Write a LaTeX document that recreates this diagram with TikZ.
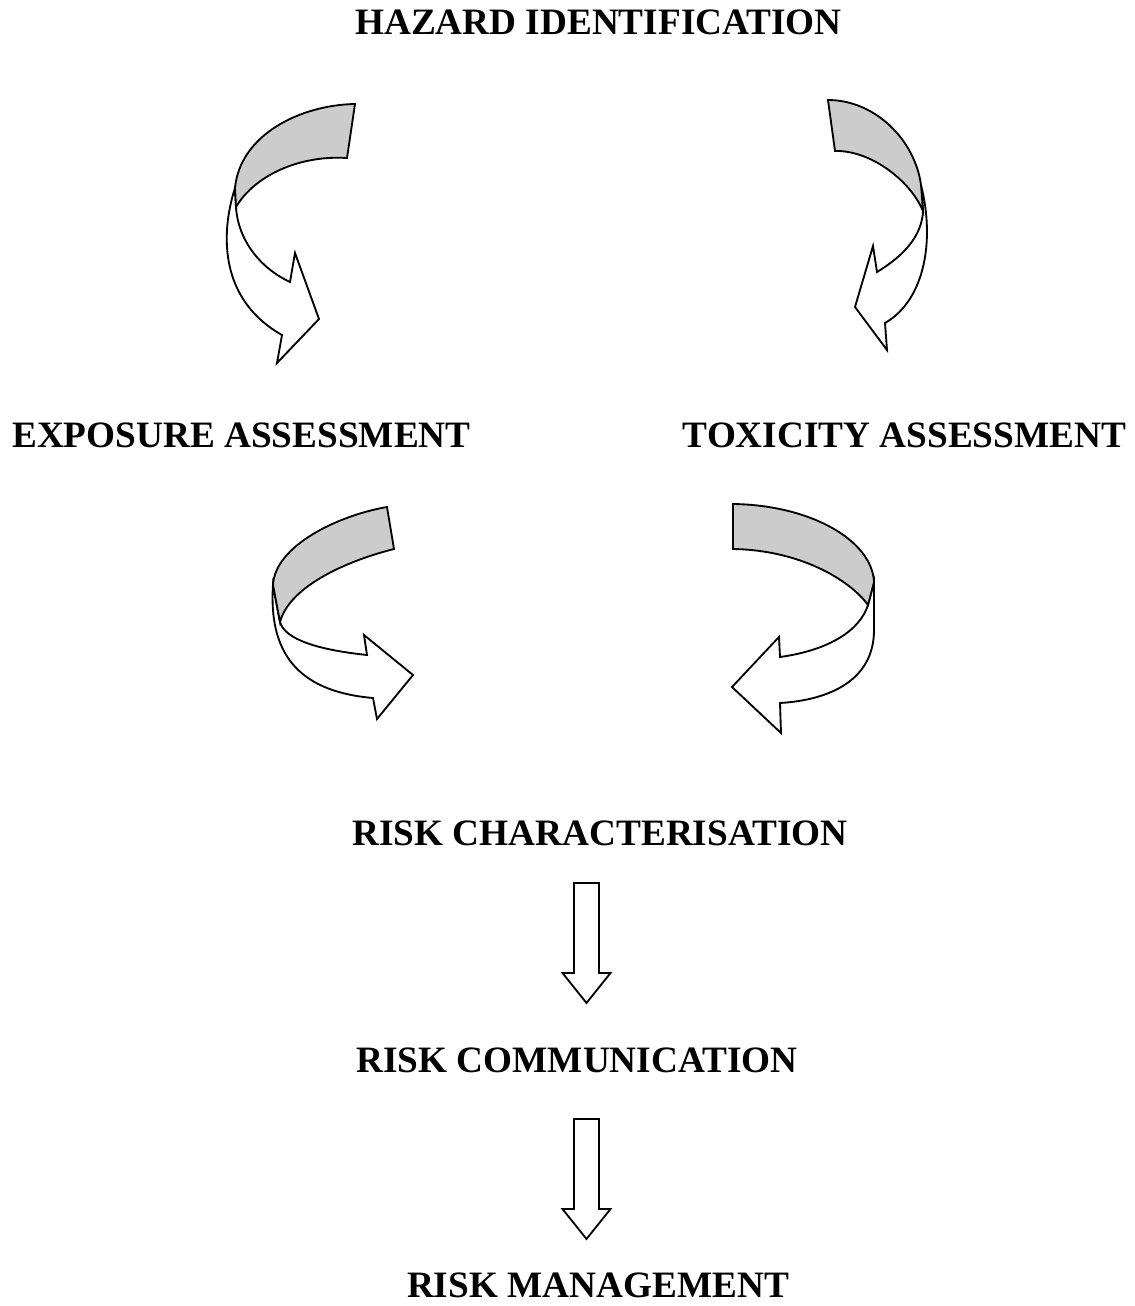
\documentclass[tikz,border=0pt]{standalone}
\usepackage{fontspec}
\setmainfont{Liberation Serif}
\usepackage{tikz}
\usetikzlibrary{positioning}
\newcommand*{\blockdown}[2]{% #1 = centre x, #2 = top y
  \draw[ribbon,fill=white] (#1-12.5,#2) -- (#1+12.5,#2) -- (#1+12.5,#2+90) -- (#1+24,#2+90)
    -- (#1,#2+120) -- (#1-24,#2+90) -- (#1-12.5,#2+90) -- cycle;}

\begin{document}
\begin{tikzpicture}[x=0.02cm,y=-0.02cm,
      ribbon/.style={draw,line width=1.05pt,line join=miter},
      backside/.style={ribbon,fill=black!20},
      frontside/.style={ribbon,fill=white},
      stage/.style={anchor=base,inner sep=0pt,font=\bfseries\fontsize{21.2}{25}\selectfont}]
      \useasboundingbox (0,0) rectangle (1134,1306);
      % stages
      \node[stage] (hazard)   at (598.5,34)  {HAZARD IDENTIFICATION};
      \node[stage] (exposure) at (241.5,447) {EXPOSURE ASSESSMENT};
      \node[stage] (toxicity) at (904.5,447) {TOXICITY ASSESSMENT};
      \node[stage] (riskchar) at (600,845)   {RISK CHARACTERISATION};
      \node[stage] (riskcomm) at (577,1072)  {RISK COMMUNICATION};
      \node[stage] (riskman)  at (598,1297)  {RISK MANAGEMENT};
      % hazard -> exposure
      \draw[frontside] (235,188) .. controls (220,235) and (220,300) .. (282,335) -- (277,363)
        -- (319,319) -- (295,253) -- (290,282) .. controls (260,268) and (238,240) .. (236,207) -- cycle;
      \draw[backside] (355,104) .. controls (300,105) and (240,135) .. (235,188) -- (236,207)
        .. controls (255,175) and (300,155) .. (347,158) -- cycle;
      % hazard -> toxicity
      \draw[frontside] (921,185) .. controls (935,240) and (925,300) .. (885,323) -- (887,350)
        -- (855,307) -- (873,246) -- (877,272) .. controls (905,255) and (922,235) .. (923,211) -- cycle;
      \draw[backside] (828,100) .. controls (875,100) and (915,140) .. (921,185) -- (923,211)
        .. controls (910,180) and (870,150) .. (835,151) -- cycle;
      % exposure -> risk characterisation
      \draw[frontside] (273,585) .. controls (268,660) and (305,692) .. (373,698) -- (377,719)
        -- (413,675) -- (364,635) -- (367,655) .. controls (320,650) and (285,640) .. (280,622) -- cycle;
      \draw[backside] (387,507) .. controls (340,515) and (275,545) .. (273,585) -- (280,622)
        .. controls (290,585) and (350,560) .. (394,549) -- cycle;
      % toxicity -> risk characterisation
      \draw[frontside] (874,582) -- (874,630) .. controls (874,680) and (830,700) .. (780,703) -- (781,733)
        -- (732,687) -- (779,637) -- (780,657) .. controls (830,650) and (860,630) .. (868,605) -- cycle;
      \draw[backside] (733,504) .. controls (810,505) and (872,540) .. (874,582) -- (868,605)
        .. controls (850,580) and (800,550) .. (733,549) -- cycle;
      % straight steps
      \blockdown{586.5}{883}
      \blockdown{586.5}{1119}
    \end{tikzpicture}
\end{document}
